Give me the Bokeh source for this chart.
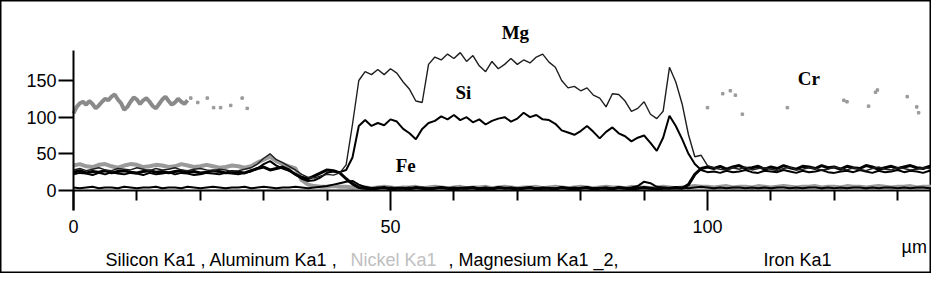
from bokeh.plotting import figure
from bokeh.models import Range1d, FixedTicker, Label
from bokeh.embed import file_html
from bokeh.resources import INLINE

# ---- data (µm positions, counts) ----
x_um = list(range(0, 138))

magnesium = [28, 30, 27, 29, 31, 28, 27, 30, 29, 28, 31, 29, 27, 30, 28, 29, 31, 28, 27, 29,
             30, 28, 27, 29, 28, 26, 27, 29, 31, 36, 44, 50, 42, 38, 33, 28, 22, 18, 17, 20,
             22, 21, 24, 35, 90, 150, 162, 158, 165, 158, 166, 160, 148, 138, 122, 120, 172, 182, 178, 186,
             180, 188, 176, 184, 170, 162, 176, 166, 172, 180, 172, 178, 174, 182, 186, 175, 168, 150, 140, 142,
             136, 140, 130, 126, 114, 132, 131, 122, 108, 112, 121, 104, 98, 108, 168, 148, 118, 76, 46, 48,
             34, 31, 29, 28, 31, 29, 32, 28, 30, 31, 29, 27, 30, 32, 28, 29, 31, 30, 28, 29,
             32, 30, 28, 31, 29, 27, 30, 32, 29, 28, 31, 30, 28, 29, 31, 30, 29, 31]

silicon = [22, 24, 23, 21, 24, 22, 25, 23, 22, 24, 23, 21, 24, 22, 23, 25, 22, 24, 23, 21,
           22, 24, 23, 22, 24, 23, 22, 24, 26, 30, 36, 40, 34, 30, 27, 22, 16, 13, 14, 18,
           24, 26, 25, 28, 45, 88, 96, 88, 92, 89, 97, 94, 84, 78, 70, 84, 92, 95, 101, 97,
           103, 96, 100, 93, 97, 90, 95, 98, 100, 94, 98, 106, 100, 103, 97, 96, 91, 82, 79, 76,
           81, 88, 80, 71, 80, 86, 78, 74, 67, 72, 75, 65, 54, 72, 102, 88, 70, 50, 36, 28,
           25, 26, 24, 27, 25, 26, 28, 25, 24, 27, 26, 25, 28, 26, 24, 27, 25, 26, 28, 25,
           24, 26, 27, 25, 28, 26, 24, 27, 25, 26, 28, 25, 27, 26, 24, 27, 26, 25]

aluminum = [25, 27, 24, 26, 25, 27, 24, 26, 27, 25, 24, 26, 27, 25, 26, 24, 26, 27, 25, 26,
            24, 25, 27, 26, 24, 26, 25, 24, 27, 30, 32, 28, 30, 32, 28, 22, 18, 16, 20, 24,
            28, 27, 24, 16, 9, 4, 3, 2, 3, 4, 2, 3, 3, 2, 4, 3, 2, 3, 4, 3,
            2, 3, 3, 4, 2, 3, 2, 4, 3, 3, 2, 3, 4, 2, 3, 3, 2, 4, 3, 2,
            3, 4, 2, 3, 3, 2, 4, 3, 2, 3, 4, 3, 2, 3, 3, 4, 3, 8, 22, 30,
            32, 30, 33, 29, 32, 34, 30, 31, 33, 29, 32, 30, 34, 31, 29, 33, 32, 30, 34, 31,
            32, 29, 33, 31, 30, 34, 32, 29, 31, 33, 30, 32, 34, 31, 30, 33, 32, 35]

nickel = [34, 36, 33, 32, 35, 36, 33, 31, 34, 36, 35, 32, 33, 35, 34, 32, 33, 36, 34, 32,
          33, 35, 33, 31, 32, 34, 33, 31, 33, 38, 42, 46, 40, 36, 33, 30, 14, 8, 6, 5,
          5, 6, 5, 5, 4, 5, 4, 3, 4, 5, 4, 3, 4, 4, 5, 3, 4, 5, 4, 3,
          4, 5, 3, 4, 4, 5, 3, 4, 5, 4, 3, 4, 4, 5, 3, 4, 5, 4, 3, 4,
          5, 4, 3, 4, 5, 4, 4, 3, 5, 4, 4, 3, 4, 5, 4, 3, 4, 5, 6, 5,
          5, 4, 5, 6, 4, 5, 5, 4, 6, 5, 4, 5, 6, 5, 4, 5, 5, 6, 4, 5,
          5, 4, 6, 5, 5, 4, 5, 6, 5, 4, 5, 5, 6, 4, 5, 5, 6, 5]

iron = [4, 3, 4, 5, 3, 4, 4, 3, 5, 4, 3, 4, 4, 5, 3, 4, 4, 3, 5, 4,
        3, 4, 5, 4, 3, 4, 4, 5, 3, 4, 5, 4, 3, 4, 4, 5, 4, 3, 4, 5,
        6, 8, 10, 12, 13, 8, 5, 3, 4, 3, 4, 3, 3, 4, 3, 4, 3, 3, 4, 3,
        4, 3, 4, 3, 3, 4, 3, 4, 3, 4, 3, 3, 4, 3, 4, 3, 3, 4, 3, 4,
        3, 4, 3, 3, 4, 3, 4, 3, 4, 6, 12, 10, 5, 4, 3, 4, 4, 3, 4, 5,
        4, 3, 4, 3, 4, 4, 3, 4, 3, 4, 3, 4, 4, 3, 4, 3, 4, 4, 3, 4,
        3, 4, 3, 4, 4, 3, 4, 3, 4, 4, 3, 4, 3, 4, 4, 3, 4, 3]

chromium_x = [0, 0.5, 1, 1.5, 2, 2.5, 3, 3.5, 4, 4.5, 5, 5.5, 6, 6.5, 7, 7.5, 8, 8.5, 9, 9.5,
              10, 10.5, 11, 11.5, 12, 12.5, 13, 13.5, 14, 14.5, 15, 15.5, 16, 16.5, 17, 17.5, 18]
chromium = [105, 114, 119, 121, 117, 122, 118, 112, 116, 121, 125, 123, 128, 131, 124, 119, 110, 114, 121, 127,
            124, 118, 123, 126, 121, 115, 112, 118, 124, 128, 122, 117, 120, 125, 121, 118, 123]

chromium_dots_x = [18.5, 19.6, 21.1, 22.1, 23.2, 24.8, 26.6, 27.4, 100.0, 102.4, 103.6, 104.4, 105.5,
                   112.6, 121.5, 122.0, 125.4, 126.5, 126.8, 131.5, 133.0, 133.3]
chromium_dots = [126, 120, 126, 113, 113, 116, 126, 112, 113, 132, 136, 130, 104,
                 113, 123, 121, 115, 134, 137, 128, 114, 106]

y_ticks = [0, 50, 100, 150]
x_major = [0, 50, 100]
x_minor = [10, 20, 30, 40, 60, 70, 80, 90, 110, 120, 130]
y_axis_span = [-27, 191]
x_axis_span = [0, 137]

# ---- figure ----
p = figure(width=931, height=273, output_backend="svg", toolbar_location=None,
           x_range=Range1d(-11.514, 135.33), y_range=Range1d(-113.2, 259.1),
           min_border_left=0, min_border_right=0, min_border_top=0, min_border_bottom=0)
p.xgrid.visible = False
p.ygrid.visible = False
p.outline_line_color = "black"
p.outline_line_width = 2
p.background_fill_color = "white"
p.border_fill_color = "white"

# series
p.line(chromium_x, chromium, line_color="#8a8a8a", line_width=4)
p.scatter(chromium_dots_x, chromium_dots, size=2.5, marker="square", color="#9a9a9a")
p.line(x_um, nickel, line_color="#9a9a9a", line_width=4)
p.line(x_um, aluminum, line_color="black", line_width=3)
p.line(x_um, iron, line_color="black", line_width=2)
p.line(x_um, silicon, line_color="black", line_width=2)
p.line(x_um, magnesium, line_color="#1e1e1e", line_width=1.4)

# axis lines (drawn on the data scale)
p.line([0, 0], y_axis_span, line_color="black", line_width=2)
p.line(x_axis_span, [0, 0], line_color="black", line_width=2)

tick_font = "Liberation Sans"
ya = p.yaxis[0]
ya.fixed_location = 0
ya.ticker = FixedTicker(ticks=y_ticks)
ya.axis_line_color = None
ya.major_tick_line_width = 2
ya.major_tick_out = 15
ya.major_tick_in = 0
ya.minor_tick_out = 0
ya.minor_tick_in = 0
ya.major_label_standoff = 2
ya.major_label_text_font = tick_font
ya.major_label_text_font_size = "18px"
ya.major_label_text_color = "black"

xa = p.xaxis[0]
xa.fixed_location = 0
xa.ticker = FixedTicker(ticks=x_major, minor_ticks=x_minor)
xa.axis_line_color = None
xa.major_tick_line_width = 2
xa.minor_tick_line_width = 2
xa.minor_tick_line_color = "black"
xa.major_tick_out = 20
xa.major_tick_in = 0
xa.minor_tick_out = 10
xa.minor_tick_in = 0
xa.major_label_standoff = 10
xa.major_label_text_font = tick_font
xa.major_label_text_font_size = "18px"
xa.major_label_text_color = "black"

# element labels
for txt, lx, ly in [("Mg", 69.7, 215.5), ("Si", 61.5, 134), ("Fe", 52.4, 34), ("Cr", 116.0, 153)]:
    p.add_layout(Label(x=lx, y=ly, text=txt, text_font="Liberation Serif", text_font_style="bold",
                       text_font_size="19px", text_align="center", text_baseline="middle",
                       text_color="black"))

# unit label
p.add_layout(Label(x=132.6, y=-76.4, text="µm", text_font=tick_font, text_font_size="18px",
                   text_align="center", text_baseline="middle", text_color="black"))

# legend line
legend_parts = [("Silicon Ka1 , Aluminum Ka1 ,", 5.05, "black"),
                ("Nickel Ka1", 43.69, "#c0c0c0"),
                (", Magnesium Ka1 _2,", 59.15, "black"),
                ("Iron Ka1", 108.83, "black")]
for txt, lx, col in legend_parts:
    p.add_layout(Label(x=lx, y=-94.5, text=txt, text_font=tick_font, text_font_size="18px",
                       text_align="left", text_baseline="middle", text_color=col))

open("out.html", "w").write(file_html(p, INLINE))
